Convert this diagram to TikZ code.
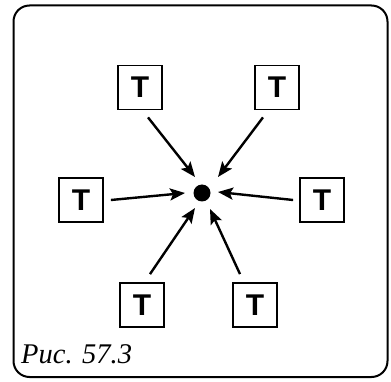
\documentclass[tikz,border=0pt]{standalone}
\usepackage{fontspec}
\setmainfont{Liberation Serif}
\newfontfamily\tfont{Liberation Sans}
\usetikzlibrary{arrows.meta,calc}
\begin{document}
\begin{tikzpicture}[x=1pt,y=-1pt,
  tbox/.style={draw, line width=1.8pt, minimum size=44pt, inner sep=0pt,
    font=\tfont\bfseries\fontsize{30}{30}\selectfont},
  arr/.style={line width=2.4pt, -{Stealth[length=15pt,width=12pt,inset=3pt]}}]
\useasboundingbox (0,0) rectangle (391,382);
\draw[line width=2pt, rounded corners=16pt] (13.5,5.5) rectangle (387.5,377);
\node[tbox] (tl) at (140,87.5) {T};
\node[tbox] (tr) at (277,87.5) {T};
\node[tbox] (l) at (81,200) {T};
\node[tbox] (r) at (322,200) {T};
\node[tbox] (bl) at (142,305) {T};
\node[tbox] (br) at (255,305) {T};
\node[circle, fill, minimum size=17pt, inner sep=0pt] (dot) at (202,193) {};
\draw[arr] ($(tl.south)+(8,7)$) -- ($(dot)+(-7,-16)$);
\draw[arr] ($(tr.south)+(-14,7)$) -- ($(dot)+(16,-16)$);
\draw[arr] ($(l.east)+(7,0)$) -- ($(dot)+(-17,0)$);
\draw[arr] ($(r.west)+(-6,0)$) -- ($(dot)+(16,-1)$);
\draw[arr] ($(bl.north)+(8,-8)$) -- ($(dot)+(-7,15)$);
\draw[arr] ($(br.north)+(-15,-8)$) -- ($(dot)+(8,16)$);
\node[anchor=base west, inner sep=0pt, font=\itshape\fontsize{28.5}{28.5}\selectfont] (cap) at (21,363) {Рис. 57.3};
\end{tikzpicture}
\end{document}
